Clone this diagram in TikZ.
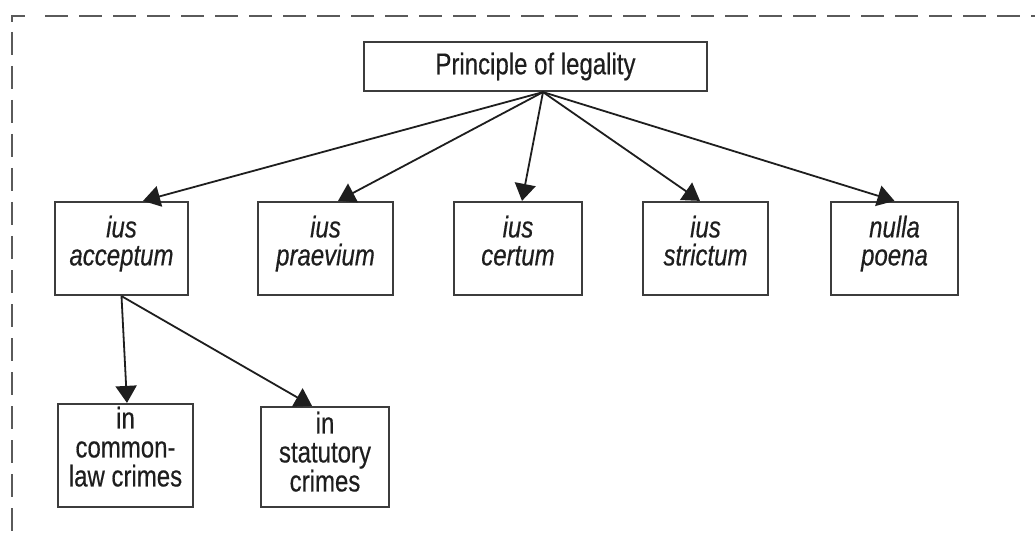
\documentclass[tikz,border=0pt]{standalone}
\usepackage{fontspec}
\setmainfont{Liberation Sans}[FakeStretch=0.8,FakeBold=0.4]
\usetikzlibrary{arrows.meta,calc}
\definecolor{framec}{HTML}{5A5A5A}
\definecolor{boxc}{HTML}{3C3C3C}
\definecolor{ink}{HTML}{1E1E1E}
\begin{document}
\begin{tikzpicture}[x=1pt,y=-1pt,
  box/.style={draw=boxc,line width=2.2pt,inner sep=0pt,fill=white},
  lbl/.style={font=\fontsize{30}{28}\selectfont,text=ink,align=center,inner sep=0pt},
  lbli/.style={lbl,font=\fontsize{30}{28}\selectfont\itshape,anchor=north},
  lbll/.style={lbl,font=\fontsize{30}{29}\selectfont,anchor=north},
  conn/.style={draw=ink,line width=1.8pt,-{Triangle[length=17pt,width=21pt]}},
  framel/.style={draw=framec,line width=2.5pt,dash pattern=on 23pt off 11pt}
  ]
\useasboundingbox[fill=white] (0,0) rectangle (1035,537);
% dashed frame
\draw[draw=framec,line width=2.5pt] (12,22) -- (12,16) -- (25,16);
\draw[framel] (45,16) -- (1035,16);
\draw[framel] (12,32) -- (12,537);
% top box
\node[box,lbl,minimum width=343pt,minimum height=49pt] (top) at (535.5,66.5) {Principle of legality};
% second row boxes
\node[box,minimum width=133pt,minimum height=93pt] (acc) at (121.5,248.5) {};
\node[box,minimum width=135pt,minimum height=93pt] (pra) at (325.5,248.5) {};
\node[box,minimum width=128pt,minimum height=93pt] (cer) at (518,248.5) {};
\node[box,minimum width=125pt,minimum height=93pt] (str) at (705.5,248.5) {};
\node[box,minimum width=127pt,minimum height=93pt] (nul) at (894.5,248.5) {};
\node[lbli] (acct) at (121.5,215.5) {ius\\acceptum};
\node[lbli] (prat) at (325.5,215.5) {ius\\praevium};
\node[lbli] (cert) at (518,215.5) {ius\\certum};
\node[lbli] (strt) at (705.5,215.5) {ius\\strictum};
\node[lbli] (nult) at (894.5,215.5) {nulla\\poena};
% third row boxes
\node[box,minimum width=135pt,minimum height=103pt] (cl) at (125.5,455.5) {};
\node[box,minimum width=128pt,minimum height=100pt] (st) at (325,457) {};
\node[lbll] (clt) at (125.5,406.5) {in\\common-\\law crimes};
\node[lbll] (stt) at (325,411.5) {in\\statutory\\crimes};
% connectors
\coordinate (hub) at ($(top.south)+(7.5,0)$);
\draw[conn] (hub) -- ($(acc.north)+(21.5,0)$);
\draw[conn] (hub) -- ($(pra.north)+(12.5,0)$);
\draw[conn] (hub) -- ($(cer.north)+(4,0)$);
\draw[conn] (hub) -- ($(str.north)+(-5.5,0)$);
\draw[conn] (hub) -- (nul.north);
\draw[conn] (acc.south) -- ($(cl.north)+(1.5,0)$);
\draw[conn] (acc.south) -- ($(st.north)+(-13,0)$);
\end{tikzpicture}
\end{document}
